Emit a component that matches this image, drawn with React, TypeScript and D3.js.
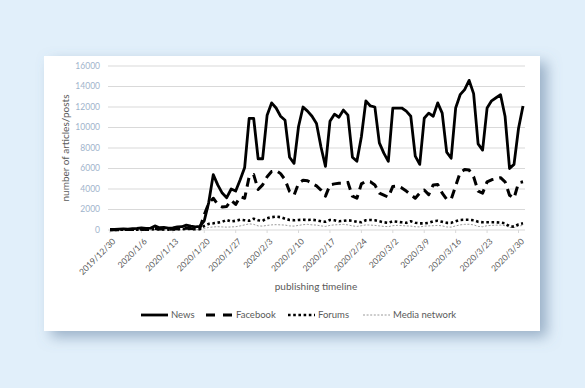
import React, { useEffect, useRef } from 'react';
import * as d3 from 'd3';

// Daily publishing volume per source, 2019/12/30 .. 2020/3/31

const startDate = new Date(2019, 11, 30);
const dayCount = 93;

const tickLabels = [
  '2019/12/30', '2020/1/6', '2020/1/13', '2020/1/20', '2020/1/27', '2020/2/3', '2020/2/10',
  '2020/2/17', '2020/2/24', '2020/3/2', '2020/3/9', '2020/3/16', '2020/3/23', '2020/3/30',
];

const yTicks = [0, 2000, 4000, 6000, 8000, 10000, 12000, 14000, 16000];

const news = [
  50, 60, 80, 100, 90, 120, 150, 200, 150, 180, 400, 220, 250, 180, 200, 300, 320, 480, 380, 300, 350,
  900, 2700, 5400, 4400, 3600, 3150, 4000, 3800, 4900, 6100, 10900, 10900, 6950, 6950,
  11200, 12400, 11900, 11100, 10700, 7100, 6500,
  10100, 12000, 11600, 11100, 10400, 8100, 6200,
  10600, 11300, 11000, 11700, 11200, 7100, 6700,
  9100, 12600, 12100, 12000, 8500, 7500, 6700,
  11900, 11900, 11900, 11600, 11100, 7200, 6400,
  10900, 11400, 11100, 12400, 11400, 7600, 7000,
  11900, 13200, 13700, 14600, 13300, 8400, 7800,
  11900, 12600, 12900, 13200, 11100, 6000, 6400,
  9900, 12100,
];

const facebook = [
  20, 30, 30, 40, 50, 50, 60, 80, 60, 70, 150, 90, 100, 80, 90, 120, 130, 200, 150, 120, 150,
  1500, 2600, 3100, 2500, 2250, 2300, 2900, 2500, 3250, 3100, 5200, 5400, 3950, 4400,
  5200, 5700, 5800, 5500, 4900, 3750, 3400,
  4550, 4850, 4800, 4550, 4300, 3900, 3300,
  4400, 4500, 4550, 4550, 4650, 3300, 3100,
  4500, 4750, 4700, 4400, 3600, 3400, 3200,
  4250, 4300, 4100, 3800, 3450, 3100, 3600,
  3900, 3450, 4400, 4450, 3600, 3000, 3000,
  4300, 5600, 5900, 5850, 5200, 3800, 3600,
  4700, 4900, 5000, 5100, 4700, 3400, 3100,
  4600, 4700,
];

const forums = [
  10, 15, 20, 20, 25, 30, 30, 40, 30, 40, 80, 50, 60, 40, 50, 70, 80, 120, 90, 70, 80,
  400, 600, 650, 720, 800, 980, 830, 900, 1000, 950, 900, 1100, 950, 900,
  1150, 1250, 1300, 1250, 1100, 980, 950,
  980, 1000, 980, 1000, 950, 850, 800,
  980, 950, 850, 900, 950, 900, 800,
  750, 950, 980, 950, 850, 750, 700,
  850, 800, 750, 700, 850, 700, 650,
  650, 700, 850, 900, 800, 700, 700,
  850, 980, 1000, 1000, 950, 800, 750,
  750, 750, 750, 720, 650, 350, 330,
  550, 650,
];

const mediaNetwork = [
  5, 5, 10, 10, 10, 15, 15, 20, 15, 20, 40, 25, 30, 20, 25, 35, 40, 60, 45, 35, 40,
  150, 250, 300, 320, 300, 280, 300, 320, 400, 500, 600, 550, 400, 380,
  450, 500, 520, 500, 480, 400, 380,
  450, 520, 550, 500, 480, 400, 350,
  450, 500, 520, 550, 500, 400, 350,
  420, 500, 480, 450, 400, 350, 330,
  420, 450, 430, 400, 380, 320, 300,
  380, 400, 420, 450, 400, 300, 280,
  400, 500, 550, 560, 500, 350, 320,
  420, 450, 470, 480, 420, 250, 240,
  380, 450,
];

const seriesNames = ['News', 'Facebook', 'Forums', 'Media network'];

const styles = [
  { color: '#000', width: 2.8, dash: null, legendDash: null },
  { color: '#000', width: 3, dash: '9,6', legendDash: '9,8' },
  { color: '#000', width: 2.6, dash: '2.6,2.6', legendDash: '2.6,2.6' },
  { color: '#9a9a9a', width: 1, dash: '2,1.6', legendDash: '2,1.6' },
];

const font = 'Lato, "Open Sans", sans-serif';

const App = () => {
  const svgRef = useRef(null);

  useEffect(() => {
    const width = 585;
    const height = 388;
    const plot = { left: 108, right: 525, top: 66, bottom: 230 };

    const svg = d3.select(svgRef.current);
    svg.selectAll('*').remove();

    const dates = d3.timeDay.range(startDate, d3.timeDay.offset(startDate, dayCount));

    const defs = svg.append('defs');
    const shadow = defs.append('filter').attr('id', 'card-shadow')
      .attr('x', '-10%').attr('y', '-10%').attr('width', '130%').attr('height', '140%');
    shadow.append('feDropShadow')
      .attr('dx', 7).attr('dy', 6).attr('stdDeviation', 7)
      .attr('flood-color', '#5f7c9c').attr('flood-opacity', 0.55);

    // page + card
    svg.append('rect').attr('width', width).attr('height', height).attr('fill', '#e1effa');
    svg.append('rect')
      .attr('x', 44).attr('y', 56).attr('width', 496).attr('height', 275)
      .attr('fill', '#fff').attr('filter', 'url(#card-shadow)');

    const xScale = d3.scaleTime()
      .domain([dates[0], dates[dates.length - 1]])
      .range([110, 523]);

    const yScale = d3.scaleLinear()
      .domain([0, 16000])
      .range([plot.bottom, plot.top]);

    // gridlines
    svg.append('g')
      .selectAll('line')
      .data(yTicks)
      .enter()
      .append('line')
      .attr('x1', plot.left)
      .attr('x2', plot.right)
      .attr('y1', d => yScale(d))
      .attr('y2', d => yScale(d))
      .attr('stroke', '#d9d9d9')
      .attr('stroke-width', 1);

    // y labels
    svg.append('g')
      .selectAll('text')
      .data(yTicks)
      .enter()
      .append('text')
      .attr('x', 100)
      .attr('y', d => yScale(d))
      .attr('dy', '0.35em')
      .attr('text-anchor', 'end')
      .attr('font-family', font)
      .attr('font-size', 8.5)
      .attr('fill', '#9fb4cc')
      .text(d => d);

    // x ticks + labels
    const tickDates = tickLabels.map((_, i) => dates[i * 7]);
    const xAxis = svg.append('g');
    xAxis.selectAll('line')
      .data(tickDates)
      .enter()
      .append('line')
      .attr('x1', d => xScale(d))
      .attr('x2', d => xScale(d))
      .attr('y1', plot.bottom)
      .attr('y2', plot.bottom + 3)
      .attr('stroke', '#d9d9d9');
    xAxis.selectAll('text')
      .data(tickLabels)
      .enter()
      .append('text')
      .attr('transform', (_, i) => `translate(${xScale(tickDates[i]) + 4},${plot.bottom + 10}) rotate(-45)`)
      .attr('dy', '0.35em')
      .attr('text-anchor', 'end')
      .attr('font-family', font)
      .attr('font-size', 8.5)
      .attr('fill', '#595959')
      .text(d => d);

    // series
    const allSeries = [news, facebook, forums, mediaNetwork];
    const line = d3.line()
      .x((_, i) => xScale(dates[i]))
      .y(d => yScale(d));

    const drawOrder = [3, 2, 1, 0];
    drawOrder.forEach(k => {
      const st = styles[k];
      svg.append('path')
        .datum(allSeries[k])
        .attr('d', line)
        .attr('fill', 'none')
        .attr('stroke', st.color)
        .attr('stroke-width', st.width)
        .attr('stroke-linejoin', 'round')
        .attr('stroke-dasharray', st.dash);
    });

    // axis titles
    svg.append('text')
      .attr('transform', 'translate(69,148) rotate(-90)')
      .attr('text-anchor', 'middle')
      .attr('font-family', font)
      .attr('font-size', 10)
      .attr('fill', '#595959')
      .text('number of articles/posts');

    svg.append('text')
      .attr('x', 316)
      .attr('y', 290)
      .attr('text-anchor', 'middle')
      .attr('font-family', font)
      .attr('font-size', 10)
      .attr('fill', '#595959')
      .text('publishing timeline');

    // legend
    const legendX = [141, 206, 288, 363];
    const legend = svg.append('g');
    seriesNames.forEach((name, k) => {
      const st = styles[k];
      const x0 = legendX[k];
      legend.append('line')
        .attr('x1', x0).attr('x2', x0 + 27)
        .attr('y1', 315).attr('y2', 315)
        .attr('stroke', st.color)
        .attr('stroke-width', st.width)
        .attr('stroke-dasharray', st.legendDash);
      legend.append('text')
        .attr('x', x0 + 30)
        .attr('y', 315)
        .attr('dy', '0.35em')
        .attr('font-family', font)
        .attr('font-size', 9.5)
        .attr('fill', '#595959')
        .text(name);
    });
  }, []);

  return (
    <svg
      ref={svgRef}
      width="585"
      height="388"
      style={{ position: 'absolute', left: 0, top: 0, display: 'block' }}
    />
  );
};

export default App;
